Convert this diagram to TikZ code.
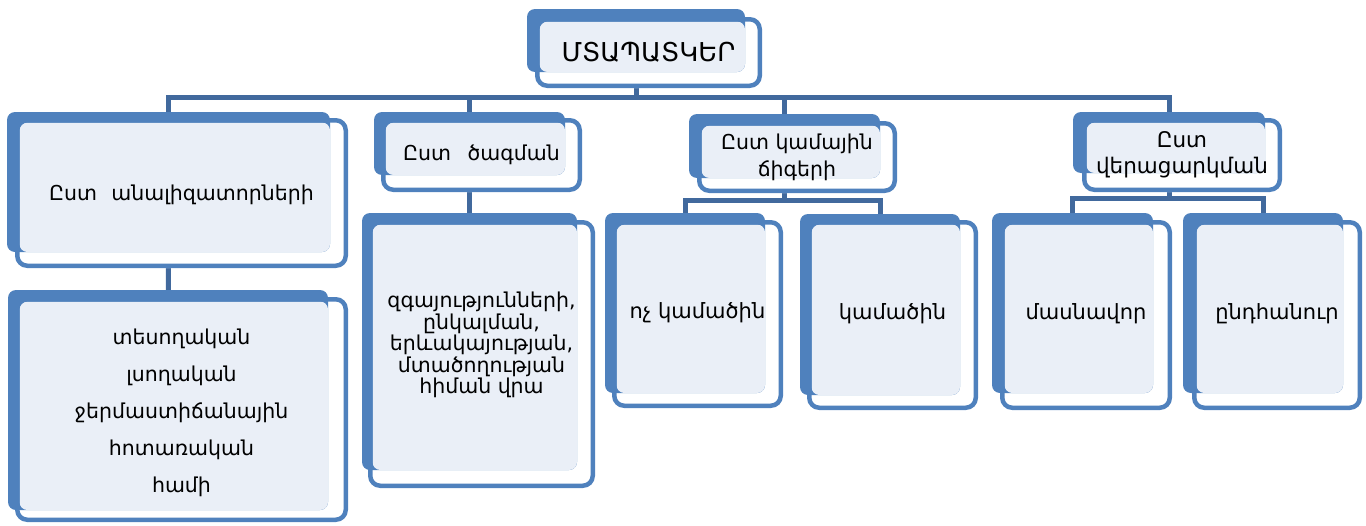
\documentclass[tikz,border=0pt]{standalone}
\usepackage{fontspec}
\setmainfont{DejaVu Sans}
\usetikzlibrary{calc,fit}
\pgfdeclarelayer{background}
\pgfsetlayers{background,main}
\definecolor{boxblue}{HTML}{4F81BD}
\definecolor{boxlight}{HTML}{EAEFF7}
\definecolor{linkblue}{HTML}{41699D}
\tikzset{
  backbox/.style={fill=boxblue, rounded corners=8pt, inner sep=0pt, outer sep=0pt, draw=none},
  frontrim/.style={draw=boxblue, line width=4.5pt, rounded corners=10pt},
  labeltext/.style={align=center, text=black, inner sep=0pt},
  link/.style={draw=linkblue, line width=5pt},
}
% #1 name, #2 back top-left, #3 back bottom-right,
% #4 front top-left, #5 front bottom-right, #6 label options, #7 text
\newcommand\twinbox[7]{%
  \fill[white, rounded corners=10pt] (#4) rectangle (#5);
  \node[backbox, fit={(#2) (#3)}] (#1b) {};
  \fill[boxlight, rounded corners=8pt] ($(#4)+(4.5,4.5)$) rectangle (#3);
  \draw[frontrim] ($(#4)+(2.25,2.25)$) rectangle ($(#5)-(2.25,2.25)$);
  \node[labeltext, #6] (#1) at ($(#4)!0.5!(#5)$) {#7};
}
\newcommand\fs[2]{\fontsize{#1}{#2}\selectfont}
\begin{document}
\begin{tikzpicture}[x=1pt, y=-1pt]
\useasboundingbox (0,0) rectangle (1366,525);

% top
\twinbox{top}{527,9}{745,72}{535,17}{762,88}{font=\fs{26}{30}}{ՄՏԱՊԱՏԿԵՐ}

% first level
\twinbox{ca}{7,112}{330,252}{15,118}{348,268}{font=\fs{20.5}{24}, yshift=-2pt}{Ըստ\hspace{0.7em}անալիզատորների}
\twinbox{cb}{374,112}{565,175}{381,118}{582,192}{font=\fs{20.5}{24}}{Ըստ\hspace{0.8em}ծագման}
\twinbox{cc}{689,114}{880,178}{697,121}{897,193}{font=\fs{20.5}{27}}{Ըստ կամային\\ճիգերի}
\twinbox{cd}{1073,112}{1265,173}{1082,118}{1282,192}{font=\fs{21.5}{26}}{Ըստ\\վերացարկման}

% second level
\twinbox{da}{8,290}{328,510}{15,297}{348,522}{font=\fs{20.5}{37}, yshift=-3pt}{տեսողական\\լսողական\\ջերմաստիճանային\\հոտառական\\համի}
\twinbox{db}{362,213}{577,470}{368,220}{595,488}{font=\fs{20.5}{21.5}, yshift=9pt}{զգայությունների,\\ընկալման,\\երևակայության,\\մտածողության\\հիման վրա}
\twinbox{dc}{605,213}{765,393}{612,220}{783,408}{font=\fs{21}{24}, yshift=1pt}{ոչ կամածին}
\twinbox{dd}{800,214}{960,395}{807,220}{978,410}{font=\fs{21}{24}, yshift=1pt}{կամածին}
\twinbox{de}{992,213}{1153,393}{1000,220}{1172,410}{font=\fs{21}{24}, yshift=1pt}{մասնավոր}
\twinbox{df}{1183,213}{1343,393}{1192,220}{1362,410}{font=\fs{21}{24}, yshift=1pt}{ընդհանուր}

% connectors, under the boxes
\begin{pgfonlayer}{background}
  \coordinate (bus) at (0,97);
  \coordinate (busc) at (0,200);
  \coordinate (busd) at (0,198);
  \draw[link] (topb.center) -- (topb.center |- bus);
  \draw[link] (cab.center) |- (cdb.center |- bus) -- (cdb.center);
  \draw[link] (cbb.center |- bus) -- (cbb.center);
  \draw[link] (ccb.center |- bus) -- (ccb.center);
  \draw[link] (cab.center) -- (dab.center);
  \draw[link] (cbb.center) -- (dbb.center);
  \draw[link] (ccb.center) -- (ccb.center |- busc);
  \draw[link] (dcb.center) |- (ddb.center |- busc) -- (ddb.center);
  \draw[link] (cdb.center) -- (cdb.center |- busd);
  \draw[link] (deb.center) |- (dfb.center |- busd) -- (dfb.center);
\end{pgfonlayer}
\end{tikzpicture}
\end{document}
